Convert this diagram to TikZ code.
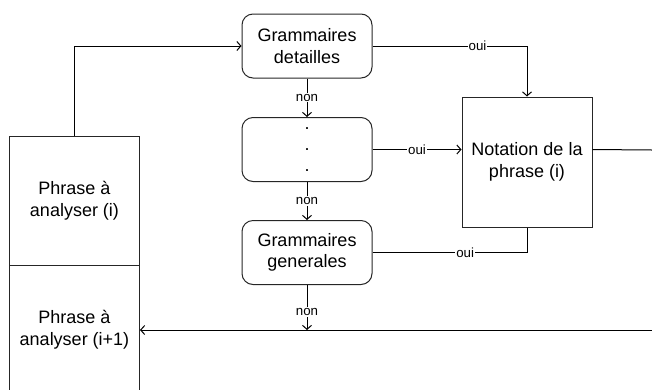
\documentclass[tikz,border=0pt]{standalone}
\usepackage{fontspec}
\setmainfont{Liberation Sans}
\usetikzlibrary{arrows.meta}
\begin{document}
\begin{tikzpicture}[x=1pt,y=-1pt,line width=1pt,
  gbox/.style={draw=black!85,rounded corners=11pt,minimum width=130pt,minimum height=64pt,align=center,inner sep=0pt,font=\fontsize{18}{21.6}\selectfont},
  sbox/.style={draw=black!85,minimum width=130pt,minimum height=129pt,align=center,inner sep=0pt,font=\fontsize{18}{21.6}\selectfont},
  conn/.style={draw=black,-{Straight Barb[length=4pt,width=9pt,line width=1pt]}},
  plain/.style={draw=black},
  lab/.style={fill=white,inner sep=1pt,font=\fontsize{13.3}{15}\selectfont}]
\useasboundingbox (0,0) rectangle (652,389);
\clip (0,0) rectangle (652,389);
\node[sbox] (pi) at (74.5,200.5) {Phrase à\\analyser (i)};
\node[sbox] (pj) at (74.5,329.5) {Phrase à\\analyser (i+1)};
\node[gbox] (gd) at (307,46) {Grammaires\\detailles};
\node[gbox] (dots) at (307,149.5) {.\\[-0.5pt].\\[-0.5pt].};
\node[gbox] (gg) at (307,252.5) {Grammaires\\generales};
\node[sbox,minimum height=130pt] (nt) at (527,162) {Notation de la\\phrase (i)};
\coordinate (r1) at (652,150);
\coordinate (r2) at (652,330);
\coordinate (mid) at (307,330);
% left box to detailles
\draw[conn] (pi.north) |- (gd.west);
% oui edges
\draw[conn] (gd.east) -| node[lab,pos=0.34] {oui} (nt.north);
\draw[conn] (dots.east) -- node[lab,pos=0.5] {oui} (dots.east -| nt.west);
\draw[plain] (gg.east) -| node[lab,pos=0.3] {oui} (nt.south);
\draw[plain] (nt.east |- dots.east) -- (r1);
% non edges
\draw[conn] (gd.south) -- node[lab,pos=0.5] {non} (dots.north);
\draw[conn] (dots.south) -- node[lab,pos=0.5] {non} (gg.north);
\draw[conn] (gg.south) -- node[lab,pos=0.6] {non} (mid);
\draw[conn] (r2) -- (pj.east |- r2);
\end{tikzpicture}
\end{document}
